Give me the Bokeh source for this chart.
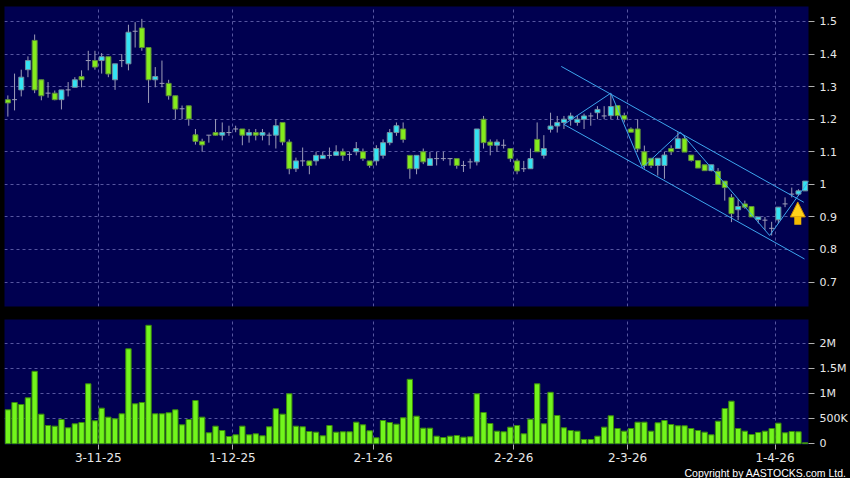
import numpy as np
from bokeh.plotting import figure
from bokeh.layouts import column
from bokeh.models import (ColumnDataSource, FixedTicker, Range1d, Title, Arrow,
                          NormalHead)
from bokeh.embed import file_html
from bokeh.resources import INLINE

# ---------------- data ----------------
opens = [1.26, 1.26, 1.29, 1.352, 1.442, 1.321, 1.28, 1.28, 1.26, 1.29,
         1.298, 1.331, 1.38, 1.38, 1.38, 1.392, 1.321, 1.38, 1.37, 1.47,
         1.48, 1.42, 1.321, 1.31, 1.31, 1.272, 1.232, 1.241, 1.152, 1.132,
         1.151, 1.159, 1.151, 1.159, 1.17, 1.17, 1.151, 1.159, 1.151, 1.151,
         1.151, 1.19, 1.13, 1.048, 1.072, 1.072, 1.072, 1.079, 1.089, 1.089,
         1.1, 1.092, 1.1, 1.1, 1.072, 1.072, 1.089, 1.128, 1.159, 1.17,
         1.089, 1.048, 1.1, 1.058, 1.079, 1.079, 1.079, 1.079, 1.058, 1.069,
         1.069, 1.2, 1.13, 1.12, 1.12, 1.11, 1.072, 1.048, 1.048, 1.138,
         1.089, 1.169, 1.179, 1.19, 1.2, 1.19, 1.2, 1.21, 1.22, 1.21,
         1.211, 1.242, 1.211, 1.17, 1.17, 1.1, 1.08, 1.058, 1.058, 1.11,
         1.11, 1.14, 1.09, 1.073, 1.06, 1.042, 1.04, 1.01, 0.96, 0.922,
         0.94, 0.932, 0.892, 0.89, 0.865, 0.891, 0.94, 0.97, 0.97, 0.98]
highs = [1.273, 1.34, 1.352, 1.393, 1.46, 1.321, 1.314, 1.288, 1.29, 1.314,
         1.329, 1.35, 1.41, 1.41, 1.403, 1.392, 1.37, 1.40, 1.49, 1.498,
         1.508, 1.42, 1.36, 1.38, 1.321, 1.272, 1.242, 1.241, 1.17, 1.14,
         1.151, 1.2, 1.19, 1.18, 1.18, 1.17, 1.17, 1.17, 1.17, 1.159,
         1.2, 1.19, 1.138, 1.082, 1.113, 1.072, 1.10, 1.10, 1.113, 1.12,
         1.11, 1.1, 1.13, 1.11, 1.072, 1.12, 1.138, 1.17, 1.19, 1.19,
         1.089, 1.089, 1.11, 1.1, 1.1, 1.1, 1.079, 1.079, 1.072, 1.079,
         1.17, 1.21, 1.138, 1.138, 1.138, 1.11, 1.079, 1.072, 1.11, 1.19,
         1.151, 1.22, 1.21, 1.21, 1.22, 1.21, 1.217, 1.22, 1.24, 1.24,
         1.278, 1.242, 1.22, 1.175, 1.2, 1.119, 1.08, 1.08, 1.1, 1.12,
         1.16, 1.15, 1.09, 1.073, 1.06, 1.06, 1.05, 1.01, 0.97, 0.955,
         0.95, 0.932, 0.9, 0.9, 0.885, 0.93, 0.96, 0.99, 0.985, 1.01]
lows = [1.208, 1.227, 1.27, 1.329, 1.28, 1.258, 1.266, 1.258, 1.23, 1.27,
        1.298, 1.298, 1.35, 1.352, 1.34, 1.329, 1.29, 1.36, 1.35, 1.42,
        1.41, 1.25, 1.298, 1.298, 1.26, 1.20, 1.20, 1.18, 1.122, 1.10,
        1.128, 1.15, 1.135, 1.149, 1.16, 1.12, 1.128, 1.135, 1.135, 1.12,
        1.11, 1.12, 1.031, 1.038, 1.056, 1.031, 1.058, 1.079, 1.079, 1.089,
        1.072, 1.072, 1.089, 1.072, 1.051, 1.058, 1.079, 1.12, 1.149, 1.128,
        1.017, 1.031, 1.062, 1.058, 1.058, 1.072, 1.058, 1.048, 1.038, 1.048,
        1.058, 1.11, 1.089, 1.1, 1.11, 1.069, 1.031, 1.038, 1.048, 1.1,
        1.079, 1.159, 1.159, 1.17, 1.18, 1.18, 1.17, 1.18, 1.2, 1.2,
        1.2, 1.2, 1.19, 1.16, 1.099, 1.048, 1.05, 1.027, 1.017, 1.09,
        1.11, 1.099, 1.07, 1.05, 1.042, 1.04, 1.0, 0.95, 0.884, 0.89,
        0.925, 0.9, 0.88, 0.86, 0.843, 0.88, 0.93, 0.96, 0.965, 0.98]
closes = [1.25, 1.26, 1.329, 1.38, 1.29, 1.272, 1.28, 1.26, 1.29, 1.29,
          1.321, 1.321, 1.38, 1.36, 1.392, 1.339, 1.37, 1.38, 1.467, 1.47,
          1.42, 1.321, 1.331, 1.31, 1.272, 1.231, 1.232, 1.201, 1.132, 1.121,
          1.151, 1.151, 1.159, 1.159, 1.17, 1.151, 1.159, 1.151, 1.159, 1.151,
          1.18, 1.13, 1.048, 1.072, 1.072, 1.058, 1.089, 1.089, 1.089, 1.1,
          1.089, 1.092, 1.11, 1.079, 1.058, 1.11, 1.128, 1.159, 1.18, 1.138,
          1.048, 1.089, 1.069, 1.079, 1.079, 1.079, 1.079, 1.058, 1.058, 1.069,
          1.17, 1.128, 1.12, 1.13, 1.12, 1.079, 1.041, 1.048, 1.079, 1.1,
          1.11, 1.179, 1.19, 1.2, 1.21, 1.2, 1.21, 1.21, 1.23, 1.21,
          1.239, 1.211, 1.2, 1.16, 1.109, 1.058, 1.058, 1.08, 1.09, 1.1,
          1.14, 1.099, 1.073, 1.05, 1.042, 1.06, 1.0, 0.99, 0.91, 0.932,
          0.93, 0.9, 0.9, 0.89, 0.865, 0.93, 0.94, 0.97, 0.98, 1.01]
volumes = [680000, 826000, 786000, 920000, 1450000, 593000, 366000, 353000, 486000, 320000,
           400000, 426000, 1200000, 460000, 713000, 533000, 500000, 600000, 1900000, 800000,
           826000, 2370000, 600000, 600000, 620000, 680000, 380000, 486000, 866000, 533000,
           220000, 353000, 266000, 146000, 180000, 353000, 180000, 200000, 160000, 340000,
           700000, 593000, 1000000, 353000, 340000, 246000, 233000, 160000, 366000, 233000,
           240000, 240000, 433000, 380000, 260000, 120000, 466000, 426000, 393000, 520000,
           1290000, 553000, 313000, 313000, 153000, 126000, 153000, 166000, 133000, 140000,
           1000000, 626000, 406000, 253000, 240000, 333000, 366000, 200000, 493000, 1200000,
           400000, 1030000, 566000, 320000, 266000, 253000, 86000, 86000, 153000, 333000,
           560000, 306000, 253000, 306000, 433000, 433000, 253000, 420000, 466000, 386000,
           360000, 360000, 306000, 266000, 233000, 180000, 453000, 706000, 853000, 306000,
           253000, 186000, 226000, 253000, 306000, 413000, 220000, 246000, 240000, 20000]

date_ticks = [14, 34, 55, 76, 93, 115]          # bar index of the labelled dates
date_labels = ["3-11-25", "1-12-25", "2-1-26", "2-2-26", "2-3-26", "1-4-26"]
price_ticks = [0.7, 0.8, 0.9, 1.0, 1.1, 1.2, 1.3, 1.4, 1.5]
price_labels = ["0.7", "0.8", "0.9", "1", "1.1", "1.2", "1.3", "1.4", "1.5"]
vol_ticks = [0, 500000, 1000000, 1500000, 2000000]
vol_labels = ["0", "500K", "1M", "1.5M", "2M"]

# user-drawn trend lines (bar index, price)
channel_upper_x = [82.6, 118.8]
channel_upper_y = [1.362, 0.945]
channel_lower_x = [83.0, 118.9]
channel_lower_y = [1.184, 0.771]
zigzag_x = [83.0, 90.0, 94.7, 100.4, 113.7, 119.6]
zigzag_y = [1.184, 1.280, 1.051, 1.160, 0.843, 1.012]
arrow_x = 117.9
arrow_y = [0.876, 0.946]

# ---------------- styles ----------------
BG = "#000050"
GRID = "#5656a0"
TXT = "#e8e8e8"
FONT = "DejaVu Sans"
GREEN_F, GREEN_L = "#84ec1c", "#5e8c3c"
CYAN_F, CYAN_L = "#33e3f3", "#74909f"
WICK = "#9d9db8"
VOL_F, VOL_L = "#72f51c", "#3a8a0c"
TREND = "#3da5ee"

n = len(opens)
x = np.arange(n)
o = np.array(opens); h = np.array(highs); l = np.array(lows); c = np.array(closes)
grid_x = [t - 0.5 for t in date_ticks]

x_range = Range1d(-0.5, n - 0.5)

p1 = figure(width=850, height=312, x_range=x_range, y_range=Range1d(0.625, 1.546),
            output_backend="svg", toolbar_location=None,
            y_axis_location="right", x_axis_location=None,
            background_fill_color=BG, border_fill_color="black",
            outline_line_color=None,
            min_border_left=4, min_border_right=42, min_border_top=6, min_border_bottom=6)

p1.xgrid.ticker = FixedTicker(ticks=grid_x)
p1.ygrid.ticker = FixedTicker(ticks=price_ticks)
for g in (p1.xgrid[0], p1.ygrid[0]):
    g.grid_line_color = GRID
    g.grid_line_dash = "3 3"
    g.grid_line_width = 1

ya = p1.yaxis[0]
ya.ticker = FixedTicker(ticks=price_ticks)
ya.major_label_overrides = {float(t): s for t, s in zip(price_ticks, price_labels)}
ya.axis_line_color = None
ya.major_tick_line_color = "#b0b0b0"
ya.major_tick_out = 6
ya.major_tick_in = 0
ya.minor_tick_line_color = None
ya.major_label_standoff = 5
ya.major_label_text_color = TXT
ya.major_label_text_font = FONT
ya.major_label_text_font_size = "11px"

# wicks
p1.segment(x0=x, y0=h, x1=x, y1=l, line_color=WICK, line_width=1)

up = c > o
dn = c < o
dj = c == o
src_up = ColumnDataSource(dict(x=x[up], top=c[up], bottom=o[up]))
src_dn = ColumnDataSource(dict(x=x[dn], top=o[dn], bottom=c[dn]))
p1.vbar(x="x", top="top", bottom="bottom", width=0.74, source=src_dn,
        fill_color=GREEN_F, line_color=GREEN_L, line_width=1)
p1.vbar(x="x", top="top", bottom="bottom", width=0.74, source=src_up,
        fill_color=CYAN_F, line_color=CYAN_L, line_width=1)
p1.segment(x0=x[dj] - 0.37, y0=c[dj], x1=x[dj] + 0.37, y1=c[dj],
           line_color=WICK, line_width=1)

# trend lines
p1.line(channel_upper_x, channel_upper_y, line_color=TREND, line_width=1)
p1.line(channel_lower_x, channel_lower_y, line_color=TREND, line_width=1)
p1.line(zigzag_x, zigzag_y, line_color=TREND, line_width=1)

p1.add_layout(Arrow(x_start=arrow_x, y_start=arrow_y[0], x_end=arrow_x, y_end=arrow_y[1],
                    line_color="#f2bb00", line_width=7,
                    end=NormalHead(size=15, fill_color="#ffd21a", line_color="#c88a00",
                                   line_width=1)))

# ---------------- volume ----------------
p2 = figure(width=850, height=166, x_range=x_range, y_range=Range1d(-14000, 2486000),
            output_backend="svg", toolbar_location=None,
            y_axis_location="right", x_axis_location="below",
            background_fill_color=BG, border_fill_color="black",
            outline_line_color=None,
            min_border_left=4, min_border_right=42, min_border_top=7, min_border_bottom=34)

p2.xgrid.ticker = FixedTicker(ticks=grid_x)
p2.ygrid.ticker = FixedTicker(ticks=vol_ticks[1:])
for g in (p2.xgrid[0], p2.ygrid[0]):
    g.grid_line_color = GRID
    g.grid_line_dash = "3 3"
    g.grid_line_width = 1

p2.vbar(x=x, top=volumes, bottom=0, width=0.8, fill_color=VOL_F, line_color=VOL_L, line_width=1)

ya2 = p2.yaxis[0]
ya2.ticker = FixedTicker(ticks=vol_ticks)
ya2.major_label_overrides = {t: s for t, s in zip(vol_ticks, vol_labels)}
ya2.axis_line_color = None
ya2.major_tick_line_color = "#b0b0b0"
ya2.major_tick_out = 6
ya2.major_tick_in = 0
ya2.minor_tick_line_color = None
ya2.major_label_standoff = 5
ya2.major_label_text_color = TXT
ya2.major_label_text_font = FONT
ya2.major_label_text_font_size = "11px"

xa = p2.xaxis[0]
xa.ticker = FixedTicker(ticks=grid_x)
xa.major_label_overrides = {float(t): s for t, s in zip(grid_x, date_labels)}
xa.axis_line_color = None
xa.major_tick_line_color = "#b0b0b0"
xa.major_tick_out = 5
xa.major_tick_in = 0
xa.minor_tick_line_color = None
xa.major_label_standoff = 3
xa.major_label_text_color = TXT
xa.major_label_text_font = FONT
xa.major_label_text_font_size = "12px"

p2.add_layout(Title(text="Copyright by AASTOCKS.com Ltd.", align="right", offset=-38,
                    standoff=0, text_color="white", text_font="Liberation Sans",
                    text_font_size="10.5px", text_font_style="normal"), "below")

layout = column(p1, p2, spacing=0)

template = """{% block preamble %}<style>html, body {margin: 0 !important; padding: 0 !important; background: #000000 !important;}</style>{% endblock %}"""
open("out.html", "w").write(file_html(layout, INLINE, "chart", template=template))
